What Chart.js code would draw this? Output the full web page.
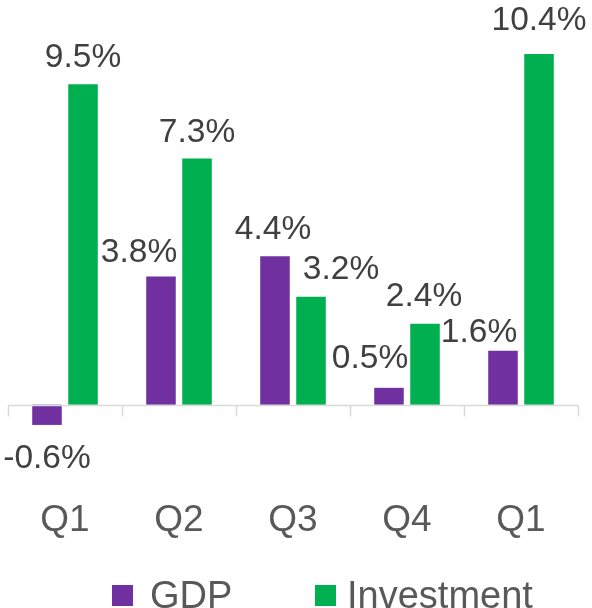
<!DOCTYPE html>
<html>
<head>
<meta charset="utf-8">
<script src="https://cdn.jsdelivr.net/npm/chart.js@4"></script>
<style>
  body { margin: 0; background: #ffffff; }
  #wrap { width: 592px; height: 608px; }
</style>
</head>
<body>
<div id="wrap"><canvas id="chart"></canvas></div>
<script>
  // Growth data (%)
  const categories = ['Q1', 'Q2', 'Q3', 'Q4', 'Q1'];
  const gdpValues = [-0.6, 3.8, 4.4, 0.5, 1.6];
  const investmentValues = [9.5, 7.3, 3.2, 2.4, 10.4];
  const seriesNames = ['GDP', 'Investment'];

  const FONT = '"Liberation Sans", Arial, sans-serif';

  // Zero line with category tick marks
  const zeroAxis = {
    id: 'zeroAxis',
    afterDatasetsDraw(chart) {
      const ctx = chart.ctx;
      const x = chart.scales.x;
      const y0 = Math.round(chart.scales.y.getPixelForValue(0)) + 0.5;
      const step = x.width / categories.length;
      ctx.save();
      ctx.strokeStyle = '#d9d9d9';
      ctx.lineWidth = 1.5;
      ctx.beginPath();
      ctx.moveTo(x.left, y0);
      ctx.lineTo(x.right, y0);
      for (let i = 0; i <= categories.length; i++) {
        const px = Math.round(x.left + i * step) + 0.5;
        ctx.moveTo(px, y0);
        ctx.lineTo(px, y0 + 11);
      }
      ctx.stroke();
      ctx.restore();
    }
  };

  // Value labels, nudged like the original
  const valueLabels = {
    id: 'valueLabels',
    afterDatasetsDraw(chart, args, opts) {
      const ctx = chart.ctx;
      ctx.save();
      ctx.font = '33.5px ' + FONT;
      ctx.fillStyle = '#404040';
      ctx.textAlign = 'center';
      ctx.textBaseline = 'alphabetic';
      chart.data.datasets.forEach((ds, d) => {
        chart.getDatasetMeta(d).data.forEach((bar, i) => {
          const v = ds.data[i];
          const off = opts.offsets[d][i];
          const ty = v >= 0 ? bar.y - 17 : bar.y + 43;
          ctx.fillText(v.toFixed(1) + '%', bar.x + off[0], ty + off[1]);
        });
      });
      ctx.restore();
    }
  };

  // Legend drawn at the bottom
  const bottomLegend = {
    id: 'bottomLegend',
    afterDraw(chart, args, opts) {
      const ctx = chart.ctx;
      ctx.save();
      ctx.font = '38px ' + FONT;
      ctx.textBaseline = 'alphabetic';
      ctx.textAlign = 'left';
      chart.data.datasets.forEach((ds, d) => {
        const bx = opts.boxX[d];
        ctx.fillStyle = ds.backgroundColor;
        ctx.fillRect(bx, opts.boxY, 21, 21);
        ctx.fillStyle = '#595959';
        ctx.fillText(ds.label, bx + 21 + opts.gap[d], opts.textY);
      });
      ctx.restore();
    }
  };

  new Chart(document.getElementById('chart'), {
    type: 'bar',
    data: {
      labels: categories,
      datasets: [
        { label: seriesNames[0], data: gdpValues, backgroundColor: '#7030a0' },
        { label: seriesNames[1], data: investmentValues, backgroundColor: '#00b050' }
      ]
    },
    options: {
      responsive: true,
      maintainAspectRatio: false,
      animation: false,
      datasets: {
        bar: { categoryPercentage: 0.632, barPercentage: 0.82 }
      },
      layout: { padding: { left: 8, right: 14, top: 0, bottom: 67 } },
      scales: {
        x: {
          grid: { display: false, drawTicks: false },
          border: { display: false },
          ticks: { color: '#595959', font: { family: FONT, size: 37 }, padding: 10 },
          afterFit(scale) { scale.height = 52; }
        },
        y: { display: false, min: -2.5, max: 12 }
      },
      plugins: {
        legend: { display: false },
        tooltip: { enabled: false },
        valueLabels: {
          offsets: [
            [[0, 0], [-22, 2], [-2, 0], [-19, -3], [-24, 8]],
            [[0, 0], [0, 0], [30, -1], [-1, -1], [0, -7]]
          ]
        },
        bottomLegend: { boxX: [112, 315], boxY: 585, gap: [17, 11], textY: 608 }
      }
    },
    plugins: [zeroAxis, valueLabels, bottomLegend]
  });
</script>
</body>
</html>
